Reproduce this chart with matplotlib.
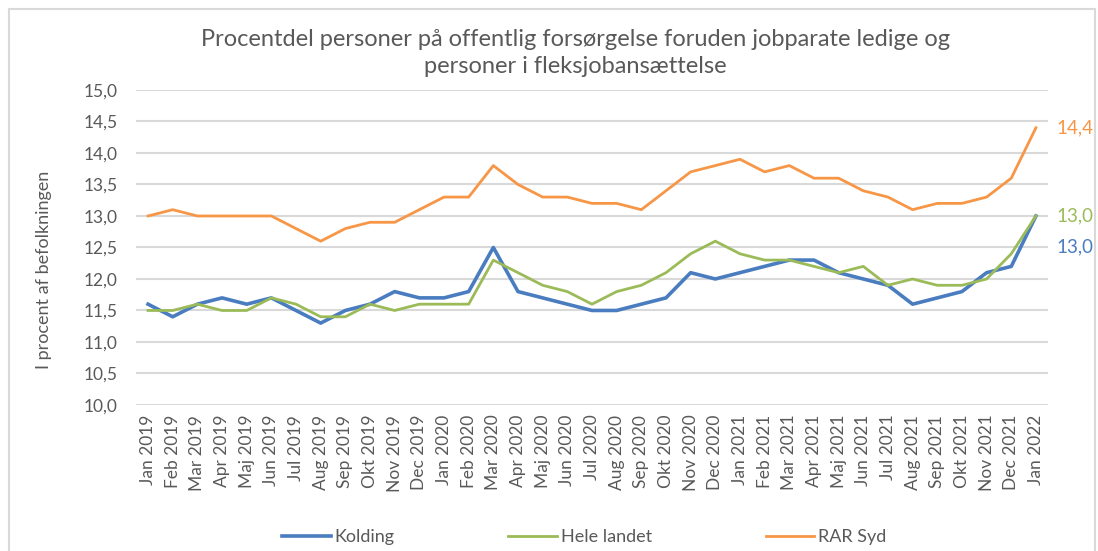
import matplotlib
matplotlib.use('Agg')
import matplotlib.pyplot as plt
from matplotlib.patches import Rectangle

# Data
months = ['Jan 2019', 'Feb 2019', 'Mar 2019', 'Apr 2019', 'Maj 2019', 'Jun 2019',
          'Jul 2019', 'Aug 2019', 'Sep 2019', 'Okt 2019', 'Nov 2019', 'Dec 2019',
          'Jan 2020', 'Feb 2020', 'Mar 2020', 'Apr 2020', 'Maj 2020', 'Jun 2020',
          'Jul 2020', 'Aug 2020', 'Sep 2020', 'Okt 2020', 'Nov 2020', 'Dec 2020',
          'Jan 2021', 'Feb 2021', 'Mar 2021', 'Apr 2021', 'Maj 2021', 'Jun 2021',
          'Jul 2021', 'Aug 2021', 'Sep 2021', 'Okt 2021', 'Nov 2021', 'Dec 2021',
          'Jan 2022']

kolding = [11.6, 11.4, 11.6, 11.7, 11.6, 11.7, 11.5, 11.3, 11.5, 11.6, 11.8, 11.7,
           11.7, 11.8, 12.5, 11.8, 11.7, 11.6, 11.5, 11.5, 11.6, 11.7, 12.1, 12.0,
           12.1, 12.2, 12.3, 12.3, 12.1, 12.0, 11.9, 11.6, 11.7, 11.8, 12.1, 12.2,
           13.0]

hele_landet = [11.5, 11.5, 11.6, 11.5, 11.5, 11.7, 11.6, 11.4, 11.4, 11.6, 11.5, 11.6,
               11.6, 11.6, 12.3, 12.1, 11.9, 11.8, 11.6, 11.8, 11.9, 12.1, 12.4, 12.6,
               12.4, 12.3, 12.3, 12.2, 12.1, 12.2, 11.9, 12.0, 11.9, 11.9, 12.0, 12.4,
               13.0]

rar_syd = [13.0, 13.1, 13.0, 13.0, 13.0, 13.0, 12.8, 12.6, 12.8, 12.9, 12.9, 13.1,
           13.3, 13.3, 13.8, 13.5, 13.3, 13.3, 13.2, 13.2, 13.1, 13.4, 13.7, 13.8,
           13.9, 13.7, 13.8, 13.6, 13.6, 13.4, 13.3, 13.1, 13.2, 13.2, 13.3, 13.6,
           14.4]

yticks = [10.0, 10.5, 11.0, 11.5, 12.0, 12.5, 13.0, 13.5, 14.0, 14.5, 15.0]

BLUE = '#4A7CC0'
GREEN = '#9BBB59'
ORANGE = '#F79646'
TEXT = '#595959'
GRID = '#D9D9D9'

plt.rcParams['font.family'] = ['Lato', 'DejaVu Sans']

fig = plt.figure(figsize=(10.98, 5.51), dpi=100)
ax = fig.add_axes([0.1236, 0.265, 0.8311, 0.5717])

# outer chart frame
fig.patches.append(Rectangle((9 / 1098, -0.01), 1086 / 1098, 1 - 9 / 551 + 0.01,
                             transform=fig.transFigure, fill=False,
                             edgecolor=GRID, linewidth=1.5))

x = list(range(len(months)))
ax.plot(x, kolding, color=BLUE, linewidth=2.6, label='Kolding', zorder=3)
ax.plot(x, hele_landet, color=GREEN, linewidth=2.0, label='Hele landet', zorder=4)
ax.plot(x, rar_syd, color=ORANGE, linewidth=2.0, label='RAR Syd', zorder=3)

ax.set_xlim(-0.5, len(months) - 0.5)
ax.set_ylim(10, 15)
ax.set_yticks(yticks)
ax.set_yticklabels([f'{v:.1f}'.replace('.', ',') for v in yticks])
ax.set_xticks(x)
ax.set_xticklabels(months, rotation=90)
ax.tick_params(axis='both', length=0, labelsize=12.5, labelcolor=TEXT)
ax.tick_params(axis='y', pad=13)
ax.tick_params(axis='x', pad=7)

ax.grid(axis='y', color=GRID, linewidth=1.5)
ax.set_axisbelow(True)
for s in ['top', 'right', 'left', 'bottom']:
    ax.spines[s].set_visible(False)

ax.set_ylabel('I procent af befolkningen', fontsize=13, color=TEXT)
ax.yaxis.set_label_coords(-0.092, 0.43)

# end-point labels
last = len(months) - 1
ax.annotate(f'{rar_syd[-1]:.1f}'.replace('.', ','), (last, rar_syd[-1]),
            xytext=(15, 0), textcoords='offset points', va='center',
            color=ORANGE, fontsize=13.5)
ax.annotate(f'{hele_landet[-1]:.1f}'.replace('.', ','), (last, hele_landet[-1]),
            xytext=(15, 0), textcoords='offset points', va='center',
            color=GREEN, fontsize=13.5)
ax.annotate(f'{kolding[-1]:.1f}'.replace('.', ','), (last, kolding[-1]),
            xytext=(15, -22), textcoords='offset points', va='center',
            color=BLUE, fontsize=13.5)

fig.text(0.524, 0.904, 'Procentdel personer på offentlig forsørgelse foruden jobparate ledige og\npersoner i fleksjobansættelse',
         ha='center', va='center', fontsize=17, color=TEXT, linespacing=1.35)

fig.legend(loc='center', bbox_to_anchor=(0.532, 0.025), ncol=3, frameon=False,
           fontsize=13, labelcolor=TEXT, handlelength=2.7, handletextpad=0.2,
           columnspacing=6.3)

fig.savefig('out.png', dpi=100)
